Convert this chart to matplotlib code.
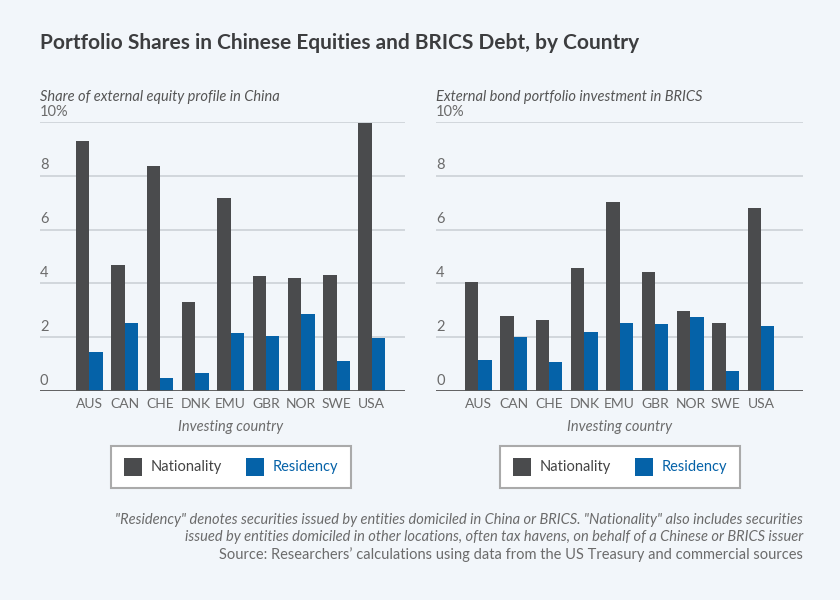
import numpy as np
import matplotlib.pyplot as plt
from matplotlib.patches import Rectangle

countries = ["AUS", "CAN", "CHE", "DNK", "EMU", "GBR", "NOR", "SWE", "USA"]

# left panel: equity share in China (%)
eq_nationality = [9.28, 4.67, 8.36, 3.31, 7.17, 4.29, 4.21, 4.31, 9.96]
eq_residency = [1.44, 2.53, 0.50, 0.66, 2.15, 2.05, 2.87, 1.13, 1.96]

# right panel: bond investment in BRICS (%)
bd_nationality = [4.06, 2.80, 2.64, 4.59, 7.02, 4.42, 2.97, 2.54, 6.80]
bd_residency = [1.17, 2.01, 1.09, 2.18, 2.52, 2.49, 2.75, 0.73, 2.43]

yticks = [0, 2, 4, 6, 8, 10]
ytick_labels = ["0", "2", "4", "6", "8", "10%"]

BG = "#f2f6fa"
GRAY = "#4a4b4d"
BLUE = "#0562a8"
TXT = "#6b6b6b"

plt.rcParams["font.family"] = ["Lato", "DejaVu Sans"]

W, H = 840, 600
fig = plt.figure(figsize=(8.4, 6), dpi=100, facecolor=BG)


def px(x, y):
    return x / W, 1 - y / H


fig.text(*px(40, 43), "Portfolio Shares in Chinese Equities and BRICS Debt, by Country",
         fontsize=15, fontweight="bold", color="#3c3d3f", va="center", ha="left")


def panel(left, right, xlo, xhi, nat, res, subtitle):
    ax = fig.add_axes([left / W, 1 - 391 / H, (right - left) / W, (391 - 122) / H])
    ax.set_facecolor(BG)
    x = np.arange(len(countries))
    w = 0.38
    ax.bar(x - w / 2, nat, w, color=GRAY, zorder=3)
    ax.bar(x + w / 2, res, w, color=BLUE, zorder=3)
    ax.set_xlim(xlo, xhi)
    ax.set_ylim(0, 10)
    for t in yticks[1:]:
        ax.axhline(t, color="#cfd4d9", lw=1.3, zorder=1)
    ax.axhline(0, color="#555555", lw=1.3, zorder=4)
    for t, lab in zip(yticks, ytick_labels):
        ax.annotate(lab, (xlo, t), xytext=(0, 2.5), textcoords="offset points",
                    fontsize=10.5, color=TXT, ha="left", va="bottom")
    for s in ax.spines.values():
        s.set_visible(False)
    ax.set_yticks([])
    ax.set_xticks(x)
    ax.set_xticklabels(countries, fontsize=10, color=TXT)
    ax.tick_params(axis="x", length=0, pad=5)
    ax.text(4, -1.33, "Investing country", transform=ax.transData, fontsize=10.5,
            style="italic", color=TXT, ha="center", va="center")
    fig.text(*px(left, 97), subtitle, fontsize=10.5, style="italic", color="#555555",
             ha="left", va="center")
    # legend box
    cx = ax.transData.transform((4, 0))[0]
    bx0 = cx - 120
    fig.add_artist(Rectangle(px(bx0, 488), 240 / W, 42 / H, transform=fig.transFigure,
                             facecolor="white", edgecolor="#aaaaaa", lw=1.5))
    fig.add_artist(Rectangle(px(bx0 + 13, 476), 18 / W, 18 / H, transform=fig.transFigure,
                             facecolor=GRAY, edgecolor="none"))
    fig.text(*px(bx0 + 40, 467), "Nationality", fontsize=10.5, color="#444444",
             ha="left", va="center")
    fig.add_artist(Rectangle(px(bx0 + 135, 476), 18 / W, 18 / H, transform=fig.transFigure,
                             facecolor=BLUE, edgecolor="none"))
    fig.text(*px(bx0 + 162, 467), "Residency", fontsize=10.5, color=BLUE,
             ha="left", va="center")
    return ax


panel(40, 405, -1.40, 8.94, eq_nationality, eq_residency,
      "Share of external equity profile in China")
panel(436, 803, -1.20, 9.19, bd_nationality, bd_residency,
      "External bond portfolio investment in BRICS")

notes = [
    ("\"Residency\" denotes securities issued by entities domiciled in China or BRICS. "
     "\"Nationality\" also includes securities", "italic", 520),
    ("issued by entities domiciled in other locations, often tax havens, "
     "on behalf of a Chinese or BRICS issuer", "italic", 537),
    ("Source: Researchers\u2019 calculations using data from the US Treasury "
     "and commercial sources", "normal", 555),
]
for txt, st, yy in notes:
    fig.text(*px(803, yy), txt, fontsize=10.5, style=st, color=TXT, ha="right", va="center")

fig.savefig("out.png", dpi=100, facecolor=BG)
